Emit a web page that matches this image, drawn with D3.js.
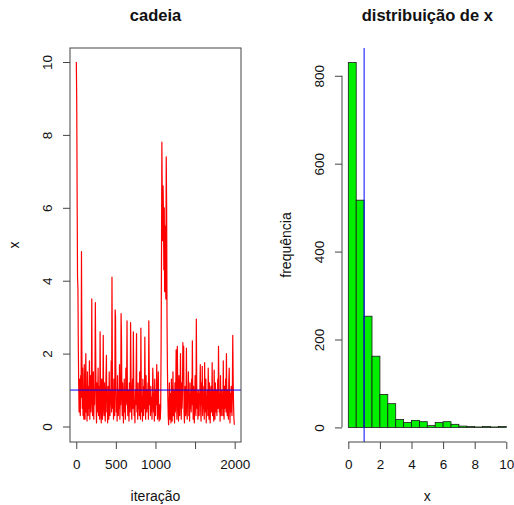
<!DOCTYPE html>
<html><head><meta charset="utf-8">
<script src="https://cdn.jsdelivr.net/npm/d3@7"></script>
<style>
body{margin:0;background:#fff}
svg{display:block}
text{font-family:"Liberation Sans",Arial,Helvetica,sans-serif;fill:#111}
</style>
</head><body>
<svg id="c" width="514" height="505"></svg>
<script>
// ---- data ----
// chain values, one stored sample every `chainStep` iterations (iteration 1, 6, 11, ...)
const chainStep = 5;
const chainValues = [
 10, 8.9, 6.4, 4.1, 3.8, 2.2, 1.1, 0.4, 1.3, 0.6,
 0.3, 1.4, 0.8, 4.8, 2.1, 0.5, 1.6, 0.3, 1.0, 0.2,
 1.7, 0.6, 0.2, 1.2, 2.0, 0.4, 0.9, 0.15, 1.5, 0.7,
 0.3, 1.1, 0.5, 1.8, 0.2, 0.9, 1.4, 0.4, 0.8, 3.5,
 1.2, 0.3, 0.7, 1.5, 0.2, 1.0, 0.6, 1.3, 3.4, 1.9,
 0.6, 0.1, 1.2, 0.4, 0.8, 1.6, 0.3, 1.1, 0.5, 0.2,
 2.6, 1.0, 0.4, 0.1, 1.3, 0.7, 0.2, 0.9, 2.5, 0.5,
 0.3, 1.2, 0.6, 0.15, 0.9, 1.4, 1.95, 0.4, 0.8, 0.1,
 1.1, 0.5, 0.2, 1.5, 0.7, 0.3, 1.0, 0.6, 1.8, 0.4,
 4.1, 1.6, 0.5, 0.9, 0.2, 1.3, 0.7, 0.3, 3.2, 3.0,
 1.1, 0.4, 0.8, 0.15, 1.4, 0.6, 0.3, 1.0, 0.5, 1.7,
 0.2, 0.9, 0.6, 3.1, 2.45, 0.8, 0.3, 1.2, 0.5, 0.1,
 0.7, 1.3, 0.4, 0.9, 0.2, 1.6, 0.6, 1.1, 2.9, 0.8,
 0.3, 1.0, 0.5, 0.15, 1.2, 0.7, 0.4, 2.85, 1.5, 0.6,
 0.2, 0.9, 1.3, 0.5, 2.6, 1.1, 0.3, 0.7, 0.1, 1.0,
 0.6, 1.4, 2.55, 0.4, 0.8, 0.2, 1.2, 0.5, 0.9, 0.3,
 1.5, 0.7, 0.2, 2.7, 1.0, 0.4, 0.8, 0.15, 1.3, 0.6,
 0.3, 1.1, 0.5, 2.45, 0.9, 0.2, 1.4, 0.7, 0.4, 1.0,
 0.5, 1.2, 0.2, 2.9, 1.6, 0.6, 0.9, 0.3, 1.1, 0.4,
 0.8, 0.2, 0.6, 1.6, 1.1, 0.4, 0.9, 0.15, 1.3, 0.5,
 0.3, 1.0, 0.6, 1.7, 0.9, 0.2, 0.5, 1.5, 0.4, 0.15,
 0.3, 0.6, 0.2, 0.5, 2.1, 4.5, 7.8, 6.2, 5.1, 6.6,
 5.8, 4.3, 6.0, 3.7, 5.5, 4.8, 3.5, 7.4, 6.1, 2.9,
 1.6, 0.8, 0.3, 0.05, 0.6, 1.2, 0.2, 0.9, 0.4, 0.1,
 1.3, 0.5, 0.15, 0.8, 1.5, 0.3, 1.0, 0.6, 0.1, 1.2,
 0.4, 0.9, 2.1, 0.7, 0.2, 2.2, 1.1, 0.5, 0.15, 1.4,
 0.6, 0.3, 1.0, 2.0, 0.8, 0.2, 1.2, 0.5, 0.9, 2.3,
 1.3, 2.2, 0.4, 0.1, 0.8, 1.1, 0.3, 0.6, 2.15, 0.5,
 0.2, 1.0, 0.7, 1.5, 0.3, 0.9, 0.15, 1.2, 0.5, 0.8,
 0.4, 1.3, 0.6, 2.35, 0.9, 0.2, 1.1, 0.5, 0.1, 0.8,
 1.4, 0.6, 0.3, 2.95, 1.2, 0.5, 0.9, 0.2, 1.0, 0.6,
 0.3, 0.8, 1.0, 1.7, 0.4, 0.15, 1.2, 0.6, 1.65, 0.3,
 0.9, 0.5, 1.1, 0.2, 1.75, 0.7, 0.4, 1.3, 0.1, 0.8,
 0.5, 1.0, 0.3, 1.6, 0.9, 0.2, 1.2, 0.6, 0.1, 0.8,
 1.1, 0.4, 0.7, 1.75, 0.3, 1.0, 0.5, 0.15, 1.55, 0.6,
 0.2, 1.2, 0.8, 0.4, 1.0, 0.3, 0.7, 1.3, 0.5, 2.2,
 1.1, 0.4, 0.9, 0.15, 1.4, 0.6, 0.3, 1.0, 0.5, 0.8,
 0.3, 1.8, 0.7, 0.2, 1.1, 0.5, 0.9, 1.3, 0.4, 2.0,
 0.8, 0.3, 1.0, 0.5, 0.2, 1.2, 1.6, 0.6, 0.1, 0.9,
 0.4, 1.1, 0.7, 0.3, 1.0, 2.5, 1.3, 0.6, 0.2, 0.05
];
const referenceValue = 1;

const histBinEdges = [0,0.5,1,1.5,2,2.5,3,3.5,4,4.5,5,5.5,6,6.5,7,7.5,8,8.5,9,9.5,10];
const histCounts   = [830,517,253,162,75,54,18,11,16,13,4,11,13,7,3,2,1,2,1,2];

const chainXTicks = [0,500,1000,1500,2000];
const chainXTickLabels = ["0","500","1000","","2000"];
const chainYTicks = [0,2,4,6,8,10];
const histXTicks = [0,2,4,6,8,10];
const histYTicks = [0,200,400,600,800];

const titles = {left:"cadeia", right:"distribuição de x"};
const axisTitles = {leftX:"iteração", leftY:"x", rightX:"x", rightY:"frequência"};

// ---- drawing ----
const svg = d3.select("#c");
const axisCol = "#444";
const tickFont = "13.5px";
const labFont = "14px";

function styleAxis(g){
  g.select(".domain").remove();
  g.selectAll(".tick line").attr("stroke", axisCol);
  g.selectAll(".tick text").style("font-size", tickFont).attr("fill","#111");
}

// Left panel
const L = {x0:70, x1:241, y0:48, y1:442};
const cx = d3.scaleLinear().domain([-78.96, 2079.96]).range([L.x0, L.x1]);
const cy = d3.scaleLinear().domain([-0.425, 10.384]).range([L.y1, L.y0]);

const line = d3.line().x((d,i)=>cx(1 + i*chainStep)).y(d=>cy(d));
svg.append("path").datum(chainValues).attr("d", line)
  .attr("fill","none").attr("stroke","#ff0000").attr("stroke-width",1.2).attr("stroke-linejoin","round");

svg.append("line").attr("x1",L.x0).attr("x2",L.x1)
  .attr("y1",cy(referenceValue)).attr("y2",cy(referenceValue))
  .attr("stroke","#0000ff").attr("stroke-width",1);

svg.append("rect").attr("x",L.x0).attr("y",L.y0).attr("width",L.x1-L.x0).attr("height",L.y1-L.y0)
  .attr("fill","none").attr("stroke",axisCol).attr("stroke-width",1);

const gx = svg.append("g").attr("transform",`translate(0,${L.y1})`)
  .call(d3.axisBottom(cx).tickValues(chainXTicks).tickSize(7).tickFormat((d,i)=>chainXTickLabels[i]));
styleAxis(gx);
gx.selectAll(".tick text").attr("y",27).attr("dy",0);

const gy = svg.append("g").attr("transform",`translate(${L.x0},0)`)
  .call(d3.axisLeft(cy).tickValues(chainYTicks).tickSize(7).tickFormat(d3.format("d")));
styleAxis(gy);
gy.selectAll(".tick text").attr("x",0).attr("dy",0).attr("text-anchor","middle")
  .attr("transform","translate(-18.5,0) rotate(-90)");

// Right panel
const R = {x0:342, x1:512.6, y0:48, y1:442};
const hx = d3.scaleLinear().domain([-0.4, 10.4]).range([R.x0, R.x1]);
const hy = d3.scaleLinear().domain([-33.2, 863.2]).range([R.y1, R.y0]);

const bins = histCounts.map((c,i)=>({lo:histBinEdges[i], hi:histBinEdges[i+1], c}));
svg.append("g").selectAll("rect").data(bins).join("rect")
  .attr("x",d=>hx(d.lo)).attr("width",d=>hx(d.hi)-hx(d.lo))
  .attr("y",d=>hy(d.c)).attr("height",d=>hy(0)-hy(d.c))
  .attr("fill","#00f000").attr("stroke","#1a1a1a").attr("stroke-width",0.8);

svg.append("line").attr("x1",hx(referenceValue)).attr("x2",hx(referenceValue))
  .attr("y1",R.y0).attr("y2",R.y1).attr("stroke","#0000ff").attr("stroke-width",1);

const hgx = svg.append("g").attr("transform",`translate(0,${R.y1})`)
  .call(d3.axisBottom(hx).tickValues(histXTicks).tickSize(7).tickFormat(d3.format("d")));
styleAxis(hgx);
hgx.selectAll(".tick text").attr("y",27).attr("dy",0);
hgx.append("line").attr("x1",hx(histXTicks[0])).attr("x2",hx(histXTicks[histXTicks.length-1]))
  .attr("stroke",axisCol);

const hgy = svg.append("g").attr("transform",`translate(${R.x0},0)`)
  .call(d3.axisLeft(hy).tickValues(histYTicks).tickSize(7).tickFormat(d3.format("d")));
styleAxis(hgy);
hgy.selectAll(".tick text").attr("x",0).attr("dy",0).attr("text-anchor","middle")
  .attr("transform","translate(-18.5,0) rotate(-90)");
hgy.append("line").attr("y1",hy(histYTicks[0])).attr("y2",hy(histYTicks[histYTicks.length-1]))
  .attr("stroke",axisCol);

// Titles & labels
svg.append("text").attr("x",(L.x0+L.x1)/2).attr("y",21).attr("text-anchor","middle")
  .style("font-size","16.5px").style("font-weight","bold").text(titles.left);
svg.append("text").attr("x",(R.x0+R.x1)/2).attr("y",21).attr("text-anchor","middle")
  .style("font-size","16.5px").style("font-weight","bold").text(titles.right);

svg.append("text").attr("x",(L.x0+L.x1)/2).attr("y",501).attr("text-anchor","middle")
  .style("font-size",labFont).text(axisTitles.leftX);
svg.append("text").attr("x",(R.x0+R.x1)/2).attr("y",501).attr("text-anchor","middle")
  .style("font-size",labFont).text(axisTitles.rightX);
svg.append("text").attr("transform",`translate(19,${(L.y0+L.y1)/2}) rotate(-90)`).attr("text-anchor","middle")
  .style("font-size",labFont).text(axisTitles.leftY);
svg.append("text").attr("transform",`translate(291,${(R.y0+R.y1)/2}) rotate(-90)`).attr("text-anchor","middle")
  .style("font-size",labFont).text(axisTitles.rightY);
</script>
</body></html>
